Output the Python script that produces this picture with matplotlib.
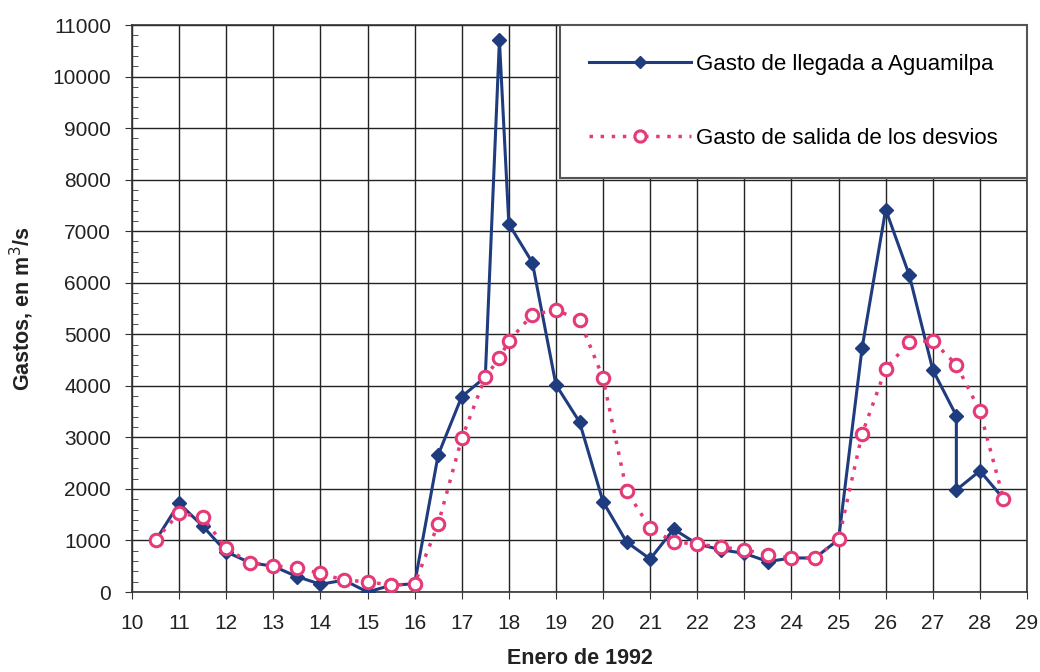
import matplotlib
matplotlib.use("Agg")
import matplotlib.pyplot as plt
from matplotlib.ticker import MultipleLocator

plt.rcParams['font.family'] = ['Liberation Sans', 'DejaVu Sans']

# Gasto de llegada a Aguamilpa
x_llegada = [10.5, 11, 11.5, 12, 12.5, 13, 13.5, 14, 14.5, 15, 15.5, 16, 16.5, 17, 17.5,
             17.8, 18, 18.5, 19, 19.5, 20, 20.5, 21, 21.5, 22, 22.5, 23, 23.5, 24, 24.5,
             25, 25.5, 26, 26.5, 27, 27.5, 27.5, 28, 28.5]
y_llegada = [1000, 1720, 1280, 780, 570, 500, 300, 150, 230, 0, 130, 160, 2660, 3790, 4170,
             10700, 7140, 6390, 4020, 3300, 1750, 970, 640, 1220, 930, 820, 750, 590, 660, 660,
             1020, 4740, 7420, 6150, 4310, 3420, 1980, 2350, 1810]

# Gasto de salida de los desvios
x_salida = [10.5, 11, 11.5, 12, 12.5, 13, 13.5, 14, 14.5, 15, 15.5, 16, 16.5, 17, 17.5,
            17.8, 18, 18.5, 19, 19.5, 20, 20.5, 21, 21.5, 22, 22.5, 23, 23.5, 24, 24.5,
            25, 25.5, 26, 26.5, 27, 27.5, 28, 28.5]
y_salida = [1010, 1530, 1450, 850, 570, 510, 470, 360, 230, 200, 130, 160, 1320, 2980, 4170,
            4540, 4870, 5380, 5470, 5280, 4150, 1960, 1240, 970, 930, 870, 820, 720, 660, 660,
            1020, 3070, 4330, 4850, 4870, 4410, 3510, 1810]

label_llegada = "Gasto de llegada a Aguamilpa"
label_salida = "Gasto de salida de los desvios"

blue = "#1E3C7E"
pink = "#E53A78"

fig = plt.figure(figsize=(10.4, 6.72), dpi=100)
ax = fig.add_axes([132/1040, 1 - 592/672, (1027-132)/1040, (592-25)/672])

ax.plot(x_llegada, y_llegada, color=blue, lw=2.2, marker='D', ms=7,
        markerfacecolor=blue, markeredgecolor=blue, label=label_llegada, zorder=4)
ax.plot(x_salida, y_salida, color=pink, lw=2.5, linestyle=(0, (1, 2.2)), marker='o', ms=9,
        markerfacecolor='white', markeredgecolor=pink, markeredgewidth=2.2,
        label=label_salida, zorder=5)

ax.set_xlim(10, 29)
ax.set_ylim(0, 11000)
ax.xaxis.set_major_locator(MultipleLocator(1))
ax.yaxis.set_major_locator(MultipleLocator(1000))
ax.yaxis.set_minor_locator(MultipleLocator(200))
ax.grid(True, which='major', color='#222222', lw=1.0)
ax.set_axisbelow(True)
for s in ax.spines.values():
    s.set_color('#333333')
    s.set_linewidth(1.2)

ax.tick_params(axis='both', which='major', labelsize=15, direction='out', length=5,
               color='#333333', labelcolor='#222222')
ax.tick_params(axis='y', which='minor', direction='in', length=4, color='#333333')
ax.tick_params(axis='y', which='major', pad=10)
ax.tick_params(axis='x', which='major', pad=11)

ax.set_xlabel("Enero de 1992", fontsize=15.5, fontweight='bold', labelpad=11, color='#222222')
ax.set_ylabel("Gastos, en m$^{3}$/s", fontsize=15.5, fontweight='bold', labelpad=12, color='#222222')

leg = ax.legend(loc='upper right', bbox_to_anchor=(1.0, 1.0), fontsize=16, frameon=True,
                fancybox=False, edgecolor='#555555', framealpha=1, borderpad=1.3,
                labelspacing=2.4, handlelength=4.6, handletextpad=0.25, borderaxespad=0.0,
                markerscale=0.9)
leg.get_frame().set_linewidth(1.5)

fig.savefig("out.png", dpi=100, facecolor='white')
